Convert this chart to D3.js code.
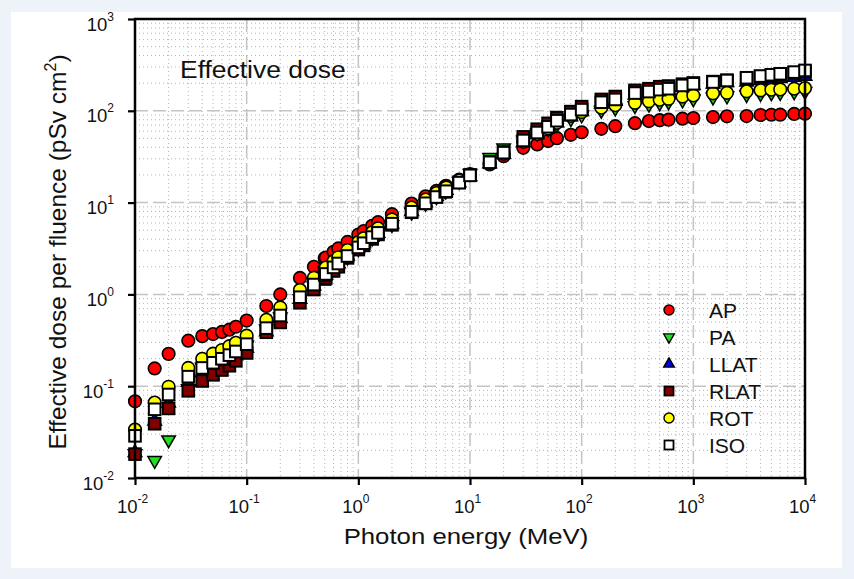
<!DOCTYPE html>
<html>
<head>
<meta charset="utf-8">
<script src="https://cdn.jsdelivr.net/npm/d3@7"></script>
<style>
body { margin: 0; background: #eef3fa; }
text { font-family: "Liberation Sans", Arial, sans-serif; fill: #111; }
</style>
</head>
<body>
<svg width="854" height="579"></svg>
<script>
// photon energies (MeV)
var energy = [0.01, 0.015, 0.02, 0.03, 0.04, 0.05, 0.06, 0.07, 0.08, 0.1, 0.15, 0.2, 0.3, 0.4, 0.5, 0.511, 0.6, 0.662, 0.8, 1,
  1.117, 1.33, 1.5, 2, 3, 4, 5, 6, 6.129, 8, 10, 15, 20, 30, 40, 50, 60, 80, 100, 150, 200, 300, 400, 500, 600, 800,
  1000, 1500, 2000, 3000, 4000, 5000, 6000, 8000, 10000];

// effective dose per fluence (pSv cm2)
var ap = [0.0685, 0.156, 0.225, 0.313, 0.351, 0.370, 0.390, 0.413, 0.444, 0.519, 0.748, 1.00, 1.51, 2.00, 2.47, 2.52, 2.91, 3.17, 3.73, 4.49,
  4.90, 5.59, 6.12, 7.48, 9.75, 11.7, 13.4, 15.0, 15.2, 17.8, 20.5, 26.0, 32.0, 39.5, 43.1, 46.8, 50.3, 54.8, 58.4, 63.6, 68.0, 73.3, 77.3, 79.0, 80.0, 82.0,
  83.4, 85.5, 87.0, 87.7, 90.0, 90.6, 90.8, 92.5, 93.0];
var pa = [0.0184, 0.0155, 0.0260, 0.0940, 0.161, 0.17, 0.19, 0.21, 0.23, 0.28, 0.42, 0.57, 0.90, 1.24, 1.58, 1.62, 1.91, 2.10, 2.55, 3.15,
  3.50, 4.10, 4.55, 5.75, 7.85, 9.8, 11.6, 13.4, 13.6, 17.0, 20.8, 31, 39.5, 48, 57, 64, 71, 82, 90, 101, 107, 114, 118, 122, 125, 131,
  135, 141, 145, 150, 154, 157, 158, 161, 163];
var llat = [0.0189, 0.0416, 0.0655, 0.110, 0.140, 0.160, 0.177, 0.194, 0.214, 0.259, 0.390, 0.545, 0.882, 1.23, 1.59, 1.62, 1.94, 2.15, 2.62, 3.24,
  3.58, 4.18, 4.63, 5.84, 8.01, 9.94, 11.7, 13.4, 13.6, 16.4, 19.2, 26.5, 33.5, 45, 55, 64, 74, 86, 98, 118, 127, 148, 156, 163, 167, 180,
  188, 196, 203, 206, 214, 220, 225, 232, 238];
var rlat = [0.0182, 0.0390, 0.0573, 0.0891, 0.114, 0.133, 0.150, 0.167, 0.189, 0.230, 0.387, 0.495, 0.81, 1.13, 1.47, 1.51, 1.80, 2.00, 2.50, 3.08,
  3.42, 4.02, 4.50, 5.72, 7.85, 9.8, 11.6, 13.3, 13.5, 16.6, 20.0, 27.8, 35.5, 52, 63, 73, 84, 98, 111, 133, 143, 167, 174, 183, 186, 195,
  201, 208, 215, 226, 236, 243, 249, 259, 268];
var rot = [0.0337, 0.0664, 0.0986, 0.158, 0.199, 0.226, 0.248, 0.273, 0.297, 0.355, 0.528, 0.721, 1.12, 1.52, 1.92, 1.96, 2.30, 2.54, 3.04, 3.72,
  4.10, 4.75, 5.24, 6.55, 8.84, 10.8, 12.7, 14.4, 14.6, 17.4, 20.0, 27, 34, 46, 56, 64, 74, 88, 97, 108, 115, 122, 127, 132, 135, 143,
  147, 155, 157, 163, 167, 170, 171, 174, 177];
var iso = [0.0288, 0.056, 0.0812, 0.127, 0.158, 0.180, 0.199, 0.218, 0.239, 0.287, 0.429, 0.589, 0.932, 1.28, 1.63, 1.67, 1.97, 2.17, 2.62, 3.25,
  3.61, 4.21, 4.68, 5.89, 7.95, 9.83, 11.5, 13.1, 13.3, 16.5, 19.8, 27.5, 35.0, 47.5, 58.0, 67.0, 78.0, 91.0, 103, 124, 133, 156, 162, 170, 174, 189,
  197, 206, 214, 229, 239, 247, 253, 264, 275];

var seriesNames = ["AP", "PA", "LLAT", "RLAT", "ROT", "ISO"];
var xTicks = [1e-2, 1e-1, 1e0, 1e1, 1e2, 1e3, 1e4];
var yTicks = [1e-2, 1e-1, 1e0, 1e1, 1e2, 1e3];

var series = [
  {name: "AP", values: ap, shape: "circle", fill: "#ff0000"},
  {name: "PA", values: pa, shape: "down", fill: "#1ee01e"},
  {name: "LLAT", values: llat, shape: "up", fill: "#0000e0"},
  {name: "RLAT", values: rlat, shape: "square", fill: "#800000"},
  {name: "ROT", values: rot, shape: "circle", fill: "#ffff00"},
  {name: "ISO", values: iso, shape: "square", fill: "#ffffff"}
];

var svg = d3.select("svg"),
  margin = {top: 19, right: 49, bottom: 101, left: 135},
  width = +svg.attr("width") - margin.left - margin.right,
  height = +svg.attr("height") - margin.top - margin.bottom;

svg.append("rect").attr("x", 11).attr("y", 12).attr("width", 831).attr("height", 556).attr("fill", "#fff");

var x = d3.scaleLog().domain([1e-2, 1e4]).range([0, width]),
  y = d3.scaleLog().domain([1e-2, 1e3]).range([height, 0]);

var g = svg.append("g").attr("transform", "translate(" + margin.left + "," + margin.top + ")");

// minor grid (dotted)
var minorX = [], minorY = [];
for (var d = -2; d < 4; d++) for (var k = 2; k < 10; k++) minorX.push(k * Math.pow(10, d));
for (var d = -2; d < 3; d++) for (var k = 2; k < 10; k++) minorY.push(k * Math.pow(10, d));

g.selectAll(".minx").data(minorX).enter().append("line")
  .attr("x1", function(v) { return x(v); }).attr("x2", function(v) { return x(v); })
  .attr("y1", 0).attr("y2", height)
  .attr("stroke", "#b4b4b4").attr("stroke-width", 1).attr("stroke-dasharray", "1,3");
g.selectAll(".miny").data(minorY).enter().append("line")
  .attr("y1", function(v) { return y(v); }).attr("y2", function(v) { return y(v); })
  .attr("x1", 0).attr("x2", width)
  .attr("stroke", "#b4b4b4").attr("stroke-width", 1).attr("stroke-dasharray", "1,3");

// major grid (dashed)
g.selectAll(".majx").data(xTicks.slice(1, -1)).enter().append("line")
  .attr("x1", function(v) { return x(v); }).attr("x2", function(v) { return x(v); })
  .attr("y1", 0).attr("y2", height)
  .attr("stroke", "#c4c4c4").attr("stroke-width", 1.5).attr("stroke-dasharray", "13,5");
g.selectAll(".majy").data(yTicks.slice(1, -1)).enter().append("line")
  .attr("y1", function(v) { return y(v); }).attr("y2", function(v) { return y(v); })
  .attr("x1", 0).attr("x2", width)
  .attr("stroke", "#c4c4c4").attr("stroke-width", 1.5).attr("stroke-dasharray", "13,5");

// axes
var xAxis = g.append("g").attr("transform", "translate(0," + height + ")")
  .call(d3.axisBottom(x).tickValues(xTicks).tickFormat("").tickSize(7).tickSizeOuter(0));
var yAxis = g.append("g")
  .call(d3.axisLeft(y).tickValues(yTicks).tickFormat("").tickSize(7).tickSizeOuter(0));
xAxis.select(".domain").remove();
yAxis.select(".domain").remove();
svg.selectAll(".tick line").attr("stroke", "#000").attr("stroke-width", 2.2);

xAxis.selectAll(".tick").append("text")
  .attr("x", -3).attr("y", 35).attr("text-anchor", "middle")
  .style("font-size", "18.5px")
  .each(function(v) {
    var t = d3.select(this);
    t.append("tspan").text("10");
    t.append("tspan").attr("dy", -10).style("font-size", "12px").text(Math.round(Math.log10(v)));
  });
yAxis.selectAll(".tick").append("text")
  .attr("x", -21).attr("y", 11).attr("text-anchor", "end")
  .style("font-size", "18.5px")
  .each(function(v) {
    var t = d3.select(this);
    t.append("tspan").text("10");
    t.append("tspan").attr("dy", -10).style("font-size", "12px").text(Math.round(Math.log10(v)));
  });

// markers
function drawMarker(sel, shape, r, sw) {
  var a = r * 2.15, h = a * Math.sqrt(3) / 2;
  if (shape === "circle") {
    sel.append("circle").attr("r", r).attr("stroke-width", sw * 0.8);
  } else if (shape === "square") {
    sel.append("rect").attr("x", -r).attr("y", -r).attr("width", 2 * r).attr("height", 2 * r).attr("stroke-width", sw);
  } else if (shape === "up") {
    sel.append("path").attr("d", "M0," + (-2 * h / 3) + "L" + (a / 2) + "," + (h / 3) + "L" + (-a / 2) + "," + (h / 3) + "Z").attr("stroke-width", sw * 0.75);
  } else {
    sel.append("path").attr("d", "M0," + (2 * h / 3) + "L" + (a / 2) + "," + (-h / 3) + "L" + (-a / 2) + "," + (-h / 3) + "Z").attr("stroke-width", sw * 0.75);
  }
}

series.forEach(function(s) {
  var pts = g.append("g").attr("fill", s.fill).attr("stroke", "#000")
    .selectAll("g").data(energy.map(function(e, i) { return [e, s.values[i]]; }))
    .enter().append("g")
    .attr("transform", function(p) { return "translate(" + x(p[0]) + "," + y(p[1]) + ")"; });
  pts.each(function() { drawMarker(d3.select(this), s.shape, s.shape === "square" ? 5.8 : 6.3, 2); });
});

// frame
g.append("rect").attr("width", width).attr("height", height)
  .attr("fill", "none").attr("stroke", "#000").attr("stroke-width", 2.5);

// legend
var legend = svg.append("g").attr("transform", "translate(669,310)");
series.forEach(function(s, i) {
  var row = legend.append("g").attr("transform", "translate(0," + (i * 27) + ")");
  var m = row.append("g").attr("fill", s.fill).attr("stroke", "#000");
  drawMarker(m, s.shape, s.shape === "square" ? 4.5 : 5, 1.8);
  row.append("text").attr("x", 40).attr("y", 7.5).style("font-size", "21px").text(seriesNames[i]);
});

// titles
svg.append("text").attr("x", 180).attr("y", 78)
  .attr("transform", "translate(180,0) scale(1.08,1) translate(-180,0)")
  .style("font-size", "24.5px").text("Effective dose");

svg.append("text")
  .attr("x", 466).attr("y", 544).attr("text-anchor", "middle")
  .attr("transform", "translate(466,0) scale(1.12,1) translate(-466,0)")
  .style("font-size", "23px").text("Photon energy (MeV)");

var yl = svg.append("text")
  .attr("transform", "translate(66,252) rotate(-90)")
  .attr("text-anchor", "middle").style("font-size", "24.5px");
yl.append("tspan").text("Effective dose per fluence (pSv cm");
yl.append("tspan").attr("dy", -10).style("font-size", "16px").text("2");
yl.append("tspan").attr("dy", 10).text(")");
</script>
</body>
</html>
